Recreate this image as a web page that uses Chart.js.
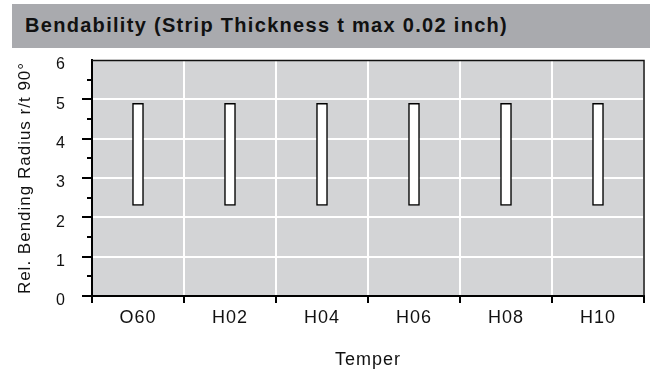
<!DOCTYPE html>
<html>
<head>
<meta charset="utf-8">
<script src="https://cdn.jsdelivr.net/npm/chart.js@4.4.0/dist/chart.umd.min.js"></script>
<style>
  html, body { margin: 0; padding: 0; background: #fff; }
  #wrap { position: relative; width: 650px; height: 374px; }
  #title {
    position: absolute; left: 12px; top: 4px; width: 625px; height: 44px;
    padding-left: 13px; background: #a9aaae; color: #111;
    font: bold 20px "Liberation Sans", Arial, sans-serif; letter-spacing: 1.3px;
    line-height: 43px; white-space: nowrap;
  }
  canvas { position: absolute; left: 0; top: 0; }
</style>
</head>
<body>
<div id="wrap">
  <canvas id="bendChart" width="650" height="374"></canvas>
  <div id="title">Bendability (Strip Thickness t max 0.02 inch)</div>
</div>
<script>
const tempers = ['O60', 'H02', 'H04', 'H06', 'H08', 'H10'];
const radiusMin = [2.3, 2.3, 2.3, 2.3, 2.3, 2.3];
const radiusMax = [4.9, 4.9, 4.9, 4.9, 4.9, 4.9];
const yMin = 0;
const yMax = 6;

const fontFamily = '"Liberation Sans", Arial, sans-serif';

// grey plot background, thin top/right frame and the short minor ticks on y
const plotFrame = {
  id: 'plotFrame',
  beforeDraw(chart) {
    const {ctx, chartArea: a} = chart;
    ctx.letterSpacing = '1px';
    ctx.save();
    ctx.fillStyle = '#d3d4d6';
    ctx.fillRect(a.left, a.top, a.right - a.left, a.bottom - a.top);
    ctx.restore();
  },
  beforeDatasetsDraw(chart) {
    const {ctx, chartArea: a, scales: {y}} = chart;
    ctx.save();
    ctx.strokeStyle = '#111';
    ctx.lineWidth = 1.5;
    ctx.beginPath();
    ctx.moveTo(a.left, a.top + 0.5);
    ctx.lineTo(a.right, a.top + 0.5);
    ctx.lineTo(a.right, a.bottom);
    ctx.stroke();

    ctx.strokeStyle = '#000';
    ctx.lineWidth = 2;
    ctx.beginPath();
    for (let v = y.min + 0.5; v < y.max; v += 1) {
      const py = Math.round(y.getPixelForValue(v));
      ctx.moveTo(a.left - 5, py);
      ctx.lineTo(a.left, py);
    }
    ctx.stroke();
    ctx.restore();
  }
};

new Chart(document.getElementById('bendChart'), {
  type: 'bar',
  data: {
    labels: tempers,
    datasets: [{
      data: tempers.map((t, i) => [radiusMin[i], radiusMax[i]]),
      backgroundColor: '#fff',
      borderColor: '#000',
      borderWidth: 1.5,
      borderSkipped: false,
      barThickness: 11
    }]
  },
  options: {
    responsive: false,
    animation: false,
    devicePixelRatio: 1,
    layout: { padding: { top: 60, right: 6, bottom: 0, left: 0 } },
    plugins: { legend: { display: false }, tooltip: { enabled: false } },
    scales: {
      x: {
        grid: { color: '#fff', lineWidth: 2, tickLength: 7, tickColor: '#000', tickWidth: 2 },
        border: { color: '#000', width: 2 },
        ticks: { color: '#111', font: { size: 18, family: fontFamily }, padding: 4 },
        title: {
          display: true, text: 'Temper', color: '#111',
          font: { size: 18, family: fontFamily }, padding: { top: 0, bottom: 3 }
        },
        afterFit(s) { s.height = 78; }
      },
      y: {
        min: yMin,
        max: yMax,
        ticks: { stepSize: 1, color: '#111', font: { size: 16, family: fontFamily }, padding: 16, labelOffset: 5 },
        grid: {
          color: '#fff', lineWidth: 2, tickLength: 10, tickWidth: 2,
          tickColor: c => (c.tick && c.tick.value === yMax ? 'rgba(0,0,0,0)' : '#000')
        },
        border: { color: '#000', width: 2 },
        title: {
          display: true, text: 'Rel. Bending Radius r/t 90°', color: '#111',
          font: { size: 17, family: fontFamily }, padding: { top: 15, bottom: 0 }
        },
        afterFit(s) { s.width = 92; }
      }
    }
  },
  plugins: [plotFrame]
});
</script>
</body>
</html>
